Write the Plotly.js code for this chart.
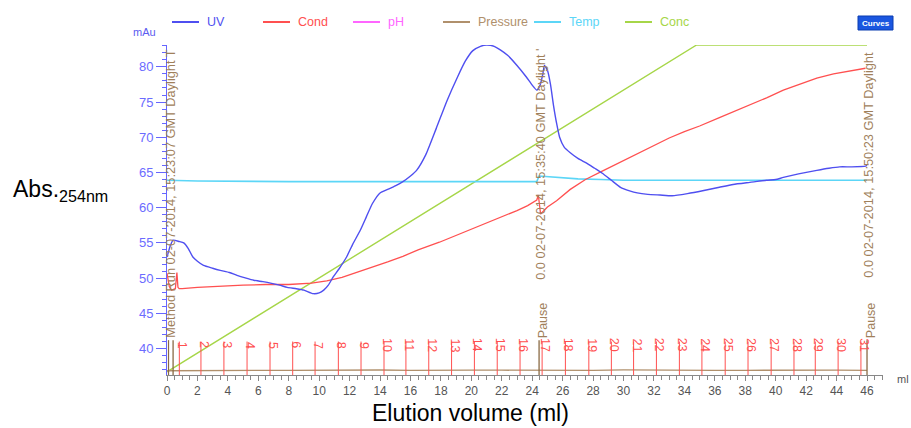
<!DOCTYPE html>
<html><head><meta charset="utf-8">
<script src="https://cdn.plot.ly/plotly-3.0.1.min.js"></script>
<style>body{margin:0;background:#fff}#c{width:911px;height:428px}</style>
</head><body><div id="c"></div>
<script>
// ---- data ----
const uvX = [0,0.2,0.4,0.8,1.1,1.4,1.7,2.0,2.4,3.0,3.5,4.1,4.6,5.2,5.7,6.3,6.8,7.4,7.9,8.5,9.0,9.6,10.0,10.3,10.6,10.9,11.3,11.8,12.2,12.7,13.1,13.5,14.0,14.5,15.0,15.5,16.0,16.4,17.0,17.7,18.4,19.1,19.6,20.1,20.6,21.0,21.5,21.9,22.4,23.0,23.6,24.0,24.3,24.5,24.7,24.8,25.0,25.2,25.4,25.6,25.8,26.1,26.5,27.0,27.6,28.1,28.6,29.2,29.8,30.4,30.9,31.6,32.4,33.2,34.2,35.2,36.3,37.2,38.3,39.4,40.0,40.5,41.5,42.7,43.5,44.2,45.0,45.9,46.0];
const uvY = [53,54.5,55.4,55.2,55.0,54.2,53.0,52.4,51.8,51.4,51.1,50.8,50.4,50.0,49.7,49.5,49.3,49.0,48.7,48.5,48.3,47.8,47.9,48.3,49.0,50.1,51.3,53.0,54.8,56.8,58.7,60.6,62.1,62.6,63.1,63.7,64.5,65.3,67.5,71.3,75.2,78.6,80.8,82.3,82.9,83.1,82.9,82.4,81.6,80.2,78.6,77.4,76.7,77.3,79.0,80.2,79.5,77.5,74.5,72.0,70.0,68.6,67.8,67.0,66.3,65.6,64.9,63.9,62.9,62.4,62.1,61.9,61.8,61.7,62.0,62.4,62.9,63.3,63.6,63.9,64.0,64.3,64.8,65.3,65.6,65.8,65.8,65.9,66.0];
const condX = [0,0.15,0.3,0.55,0.65,0.72,0.8,1.0,2.0,3.5,5.0,6.5,8.0,9.5,10.5,11.5,12.5,13.5,14.5,15.5,16.5,17.9,19.5,21.0,22.0,23.0,23.7,24.3,24.4,24.55,25.0,25.6,26.5,27.5,28.6,29.8,30.9,32.0,33.0,34.0,35.0,36.3,37.2,38.3,39.4,40.5,41.6,42.7,43.8,44.8,45.9];
const condY = [50.7,48.8,48.3,48.5,50.8,48.7,48.5,48.5,48.7,48.9,49.0,49.1,49.1,49.3,49.6,50.1,50.8,51.5,52.3,53.1,54.0,55.1,56.5,57.9,58.7,59.6,60.3,61.1,61.8,59.1,60.1,61.0,62.6,64.0,65.2,66.5,67.7,68.8,69.9,70.8,71.6,72.8,73.6,74.6,75.6,76.7,77.6,78.4,79.0,79.4,79.8];
const tempX = [0,2,8,16,24.3,24.45,25.5,27,28.5,30,35,40,46];
const tempY = [63.9,63.8,63.7,63.7,63.7,64.5,64.3,64.1,64.0,63.9,63.9,63.9,63.9];
const concX = [0,34.8,46];
const concY = [36.7,83.1,83.1];
const presX = [0,2,4,6,8,10,12,14,16,18,20,22,24,24.4,26,28,30,32,34,36,38,40,42,44,46];
const presY = [36.85,36.9,36.88,36.92,36.9,36.95,36.93,36.96,36.92,36.97,36.94,36.93,36.9,36.95,36.92,36.9,36.97,36.93,36.96,36.9,36.92,36.95,36.93,36.94,36.92];
const fracX = [0.81,2.23,3.74,5.26,6.77,8.26,9.73,11.26,12.75,14.26,15.7,17.2,18.7,20.2,21.7,23.2,24.65,26.18,27.72,29.2,30.66,32.16,33.67,35.15,36.68,38.18,39.7,41.2,42.6,44.1,45.6];
const fracLabels = ["1","2","3","4","5","6","7","8","9","10","11","12","13","14","15","16","17","18","19","20","21","22","23","24","25","26","27","28","29","30","31"];
const eventX = [0.4,24.45,46.0];
const eventLabels = ["Method Run 02-07-2014, 15:23:07 GMT Daylight T","0.0 02-07-2014, 15:35:40 GMT Daylight '","0.0 02-07-2014, 15:50:23 GMT Daylight"];
const legendNames = ["UV","Cond","pH","Pressure","Temp","Conc"];

// ---- styling ----
const F = "Liberation Sans, Arial, sans-serif";
const C = {UV:"#4f4ff0",Cond:"#ff5050",pH:"#ff66ff",Pressure:"#b0906c",Temp:"#5cd6f7",Conc:"#a6d648"};
const brown = "#a0805a";
const L=167,R=28,T=45,B=53,W=911,H=428;
const px = x => (x-L)/(W-L-R);
const py = y => (H-B-y)/(H-T-B);

const traces = [
 {x:concX,y:concY,mode:"lines",line:{color:C.Conc,width:1.4}},
 {x:tempX,y:tempY,mode:"lines",line:{color:C.Temp,width:1.6}},
 {x:presX,y:presY,mode:"lines",line:{color:C.Pressure,width:1.3}},
 {x:condX,y:condY,mode:"lines",line:{color:C.Cond,width:1.3}},
 {x:uvX,y:uvY,mode:"lines",line:{color:C.UV,width:1.4,shape:"spline",smoothing:0.5}}
];

const shapes=[], ann=[];
fracX.forEach((f,i)=>{
  shapes.push({type:"line",xref:"x",yref:"y",x0:f,x1:f,y0:36.25,y1:41.0,line:{color:"#ff5050",width:1}});
  ann.push({xref:"x",yref:"y",x:f,y:40.5,text:fracLabels[i],textangle:90,showarrow:false,xshift:3,font:{family:F,size:12.5,color:"#ff5050"}});
});
eventX.forEach((e,i)=>{
  shapes.push({type:"line",xref:"x",yref:"y",x0:e,x1:e,y0:36.25,y1:41.2,line:{color:"#8a6a44",width:1.3}});
  if(i>0){
    ann.push({xref:"x",yref:"y",x:e,y:43.9,text:"Pause",textangle:-90,showarrow:false,xshift:4,font:{family:F,size:12.5,color:brown}});
    ann.push({xref:"x",yref:"y",x:e,y:66.1,text:eventLabels[i],textangle:-90,showarrow:false,xshift:2,font:{family:F,size:12.8,color:brown}});
  } else {
    ann.push({xref:"x",yref:"y",x:0.2,y:62.0,text:eventLabels[i],textangle:-90,showarrow:false,xshift:1,font:{family:F,size:12.8,color:brown}});
  }
});
shapes.push({type:"line",xref:"x",yref:"y",x0:0.1,x1:0.1,y0:36.25,y1:41.2,line:{color:"#8a6a44",width:1.2}});

// legend
const legX=[172,263,353,443,534,625];
legendNames.forEach((n,i)=>{
  shapes.push({type:"line",xref:"paper",yref:"paper",x0:px(legX[i]),x1:px(legX[i]+27),y0:py(22),y1:py(22),line:{color:C[n],width:2}});
  ann.push({xref:"paper",yref:"paper",x:px(legX[i]+33),y:py(22),xanchor:"left",yanchor:"middle",text:n,showarrow:false,font:{family:F,size:12.5,color:C[n]}});
});
shapes.push({type:"rect",xref:"paper",yref:"paper",x0:px(858),x1:px(893),y0:py(30),y1:py(16),fillcolor:"#1a56e0",line:{color:"#0b3cb0",width:1},layer:"below"});
ann.push({xref:"paper",yref:"paper",x:px(875.5),y:py(23),xanchor:"center",yanchor:"middle",text:"<b>Curves</b>",showarrow:false,font:{family:F,size:8,color:"#ffffff"}});
ann.push({xref:"paper",yref:"paper",x:px(158),y:py(32),xanchor:"right",yanchor:"middle",text:"mAu",showarrow:false,font:{family:F,size:11,color:"#5c5cf0"}});
ann.push({xref:"paper",yref:"paper",x:px(895),y:py(379),xanchor:"left",yanchor:"middle",text:"ml",showarrow:false,font:{family:F,size:11,color:"#555"}});
ann.push({xref:"paper",yref:"paper",x:px(11),y:py(190),xanchor:"left",yanchor:"middle",text:"Abs.<sub>254nm</sub>",showarrow:false,font:{family:F,size:23,color:"#000"}});
ann.push({xref:"paper",yref:"paper",x:px(470),y:py(413),xanchor:"center",yanchor:"middle",text:"Elution volume (ml)",showarrow:false,font:{family:F,size:23,color:"#000"}});

const layout = {
  width:W,height:H,margin:{l:L,r:R,t:T,b:B},paper_bgcolor:"#fff",plot_bgcolor:"#fff",showlegend:false,
  font:{family:F},
  xaxis:{range:[0,47.05],showgrid:false,zeroline:false,showline:true,linecolor:"#888",linewidth:1,ticks:"outside",tickcolor:"#888",ticklen:5,dtick:2,tick0:0,
    minor:{dtick:0.5,ticklen:4,tickcolor:"#888",ticks:"outside"},tickfont:{family:F,size:12,color:"#555"}},
  yaxis:{range:[36.25,83.1],showgrid:false,zeroline:false,showline:true,linecolor:"#6666ff",linewidth:1,ticks:"outside",tickcolor:"#6666ff",ticklen:10,dtick:5,tick0:0,
    minor:{dtick:1,ticklen:4,tickcolor:"#6666ff",ticks:"outside"},tickfont:{family:F,size:13,color:"#6b6bff"}},
  shapes:shapes,annotations:ann
};
Plotly.newPlot("c",traces,layout,{staticPlot:true,displayModeBar:false});
</script></body></html>
